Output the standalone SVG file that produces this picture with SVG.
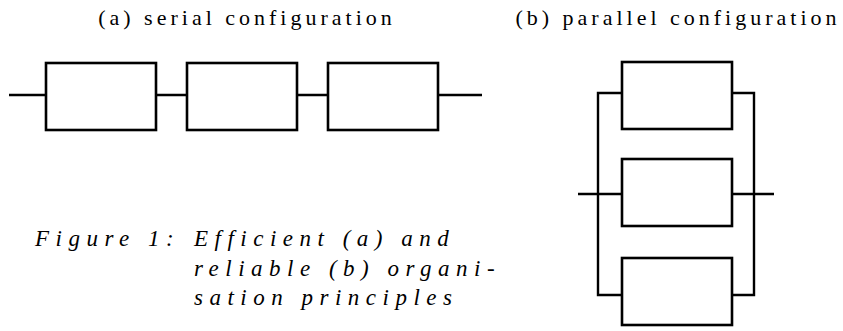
<svg xmlns="http://www.w3.org/2000/svg" width="843" height="331" viewBox="0 0 843 331">
<style>
.box{fill:#fff;stroke:#000;stroke-width:2.6}
.wire{fill:none;stroke:#000;stroke-width:2.4}
.title{font-size:22px;letter-spacing:4px;fill:#000}
.cap{font-style:italic;font-size:23px;letter-spacing:6.5px;fill:#000}
</style>
<rect width="843" height="331" fill="#fff"/>
<text class="title" font-family="'Liberation Serif', Times, serif" x="247" y="25" text-anchor="middle">(a) serial configuration</text>
<text class="title" font-family="'Liberation Serif', Times, serif" x="678" y="25" text-anchor="middle">(b) parallel configuration</text>
<g id="connectors">
<path class="wire" d="M9 95H46M156 95H187M297 95H328M438 95H482"/>
<path class="wire" d="M622 93H598V295H622M732 93H754V295H732M578 194H622M732 194H774"/>
</g>
<g id="s1"><rect class="box" x="46" y="63" width="110" height="67"/></g>
<g id="s2"><rect class="box" x="187" y="63" width="110" height="67"/></g>
<g id="s3"><rect class="box" x="328" y="63" width="110" height="67"/></g>
<g id="p1"><rect class="box" x="622" y="62" width="110" height="67"/></g>
<g id="p2"><rect class="box" x="622" y="159" width="110" height="67"/></g>
<g id="p3"><rect class="box" x="622" y="258" width="110" height="67"/></g>
<g id="caption" font-family="'Liberation Serif', Times, serif">
<text class="cap" x="35" y="246">Figure 1:</text>
<text class="cap" x="194" y="246">Efficient (a) and</text>
<text class="cap" x="194" y="276">reliable (b) organi-</text>
<text class="cap" x="194" y="305">sation principles</text>
</g>
</svg>
